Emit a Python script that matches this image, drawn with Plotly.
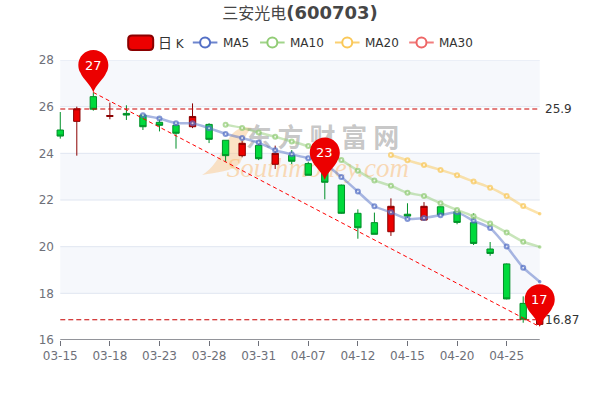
import plotly.graph_objects as go

dates = ["03-15","03-16","03-17","03-18","03-19","03-22","03-23","03-24","03-25","03-28",
         "03-29","03-30","03-31","04-01","04-02","04-07","04-08","04-09","04-12","04-13",
         "04-14","04-15","04-16","04-19","04-20","04-21","04-22","04-25","04-26","04-27"]
tick_labels = dates[::3]
y_ticks = [16, 18, 20, 22, 24, 26, 28]

opens  = [25.00,25.37,26.43,25.58,25.71,25.64,25.33,25.20,25.14,25.24,24.56,23.90,24.34,23.53,23.91,23.56,23.20,22.64,21.43,21.03,20.64,21.39,21.14,21.71,21.50,21.03,19.90,19.26,17.57,16.67]
closes = [24.74,25.91,25.89,25.62,25.64,25.14,25.20,24.86,25.58,24.60,23.90,24.43,23.77,24.00,23.66,23.06,22.76,21.43,20.81,20.53,21.73,21.31,21.73,21.36,21.04,20.14,19.71,17.76,16.89,17.00]
highs  = [25.77,26.00,26.61,26.17,26.06,25.64,25.56,25.30,26.14,25.29,24.56,24.54,24.43,24.33,24.14,23.64,23.30,22.66,21.60,21.46,22.07,21.86,21.91,21.73,21.53,21.43,20.20,19.28,17.87,17.20]
lows   = [24.63,23.90,25.83,25.46,25.43,25.00,24.94,24.20,25.08,24.44,23.64,23.83,23.71,23.33,23.54,23.06,22.03,21.41,20.34,20.53,20.46,21.21,21.11,21.36,20.96,20.07,19.61,17.74,16.74,16.60]

ma5 = [None]*5 + [25.63,25.49,25.29,25.29,25.08,24.83,24.66,24.46,24.13,23.96,23.79,23.55,22.99,22.36,21.73,21.47,21.19,21.23,21.35,21.47,21.11,20.80,20.01,19.10,18.50]
ma10 = [None]*10 + [25.23,25.09,24.89,24.71,24.51,24.31,24.05,23.71,23.25,22.84,22.61,22.31,22.17,21.86,21.57,21.30,20.99,20.61,20.21,19.99]
ma20 = [None]*20 + [23.93,23.70,23.50,23.29,23.06,22.79,22.53,22.17,21.74,21.41]
ma30 = [None]*30

ref_high = 25.9
ref_low = 16.87
ref_high_label = "25.9"
ref_low_label = "16.87"
trend_x = [dates[2], dates[29]]
trend_y = [26.61, 16.57]
pin_idx = [2, 16, 29]
pin_y = [26.61, 22.86, 16.57]
pin_labels = ["27", "23", "17"]

FONT = "DejaVu Sans, Noto Sans CJK SC, sans-serif"
AXIS = "#6e7079"
# the value axis spans 60..540 px between the first and last category; half a step of room each side
STEP = 480 / 29
L = 60 - STEP / 2
R = 540 + STEP / 2
T, B = 60, 340
px = lambda x: (x - L) / (R - L)
py = lambda y: (B - y) / (B - T)
ix = lambda i: (i + 0.5) / len(dates)
vy = lambda v: (v - y_ticks[0]) / (y_ticks[-1] - y_ticks[0])

fig = go.Figure()
fig.add_trace(go.Candlestick(
    x=dates, open=opens, high=highs, low=lows, close=closes, name="日K",
    increasing=dict(fillcolor="#ec0000", line=dict(color="#8a0000", width=1)),
    decreasing=dict(fillcolor="#00da3c", line=dict(color="#008f28", width=1)),
    showlegend=False, whiskerwidth=0))
for name, vals, col in [("MA5", ma5, "84,112,198"), ("MA10", ma10, "145,204,117"),
                        ("MA20", ma20, "250,200,88"), ("MA30", ma30, "238,102,102")]:
    sizes = [4] * 29 + [3.5]
    fills = ["white"] * 29 + [f"rgb({col})"]
    lws = [2] * 29 + [0]
    fig.add_trace(go.Scatter(
        x=dates, y=vals, name=name, mode="lines+markers", showlegend=False,
        line=dict(color=f"rgba({col},0.5)", width=2.5, shape="spline", smoothing=0.5),
        marker=dict(size=sizes, color=fills, line=dict(color=f"rgb({col})", width=lws))))
fig.add_trace(go.Scatter(x=dates, y=[ref_high]*30, mode="lines", showlegend=False,
                         line=dict(color="#c80000", width=1.1, dash="5px,3px")))
fig.add_trace(go.Scatter(x=dates, y=[ref_low]*30, mode="lines", showlegend=False,
                         line=dict(color="#c80000", width=1.1, dash="5px,3px")))
fig.add_trace(go.Scatter(x=trend_x, y=trend_y, mode="lines", showlegend=False,
                         line=dict(color="#ff0000", width=1, dash="4px,3px")))

shapes = []
for lo, hi in [(26, 28), (22, 24), (18, 20)]:
    shapes.append(dict(type="rect", xref="paper", yref="y", x0=ix(0), x1=ix(29), y0=lo, y1=hi,
                       fillcolor="#f6f8fc", line_width=0, layer="below"))
for t in y_ticks[1:]:
    shapes.append(dict(type="line", xref="paper", yref="y", x0=ix(0), x1=ix(29), y0=t, y1=t,
                       line=dict(color="#e0e6f1", width=1), layer="below"))
shapes.append(dict(type="line", xref="paper", yref="y", x0=ix(0), x1=ix(29), y0=y_ticks[0], y1=y_ticks[0],
                   line=dict(color=AXIS, width=1.5), layer="between"))
# watermark
shapes.append(dict(type="path", xref="paper", yref="paper", xsizemode="pixel", ysizemode="pixel",
                   xanchor=px(202), yanchor=py(175),
                   path="M0,0 C14,3 30,3 38,12 C44,22 38,38 50,47 C40,50 30,45 24,32 C18,18 10,6 0,0 Z",
                   fillcolor="rgba(250,200,140,0.5)", line_width=0, layer="between"))
shapes.append(dict(type="rect", xref="paper", yref="paper", x0=px(235), x1=px(410), y0=py(151), y1=py(128),
                   line_width=0, fillcolor="rgba(0,0,0,0)", layer="between",
                   label=dict(text="<b>东 方 财 富 网</b>", textposition="middle center",
                              font=dict(size=26, color="rgba(120,120,120,0.42)", family="Noto Sans CJK SC"))))
shapes.append(dict(type="rect", xref="paper", yref="paper", x0=px(228), x1=px(408), y0=py(178), y1=py(152),
                   line_width=0, fillcolor="rgba(0,0,0,0)", layer="between",
                   label=dict(text="Southmoney.com", textposition="middle center",
                              font=dict(size=27, color="rgba(250,185,110,0.5)", family="Liberation Serif", style="italic"))))
# pins
PIN = "M0,0 C-2,7 -10.5,13.5 -13,20 C-14.4,22 -15,24.6 -15,27.5 C-15,35.8 -8.3,42.5 0,42.5 C8.3,42.5 15,35.8 15,27.5 C15,24.6 14.4,22 13,20 C10.5,13.5 2,7 0,0 Z"
for i, yv in zip(pin_idx, pin_y):
    shapes.append(dict(type="path", xref="paper", yref="paper", xsizemode="pixel", ysizemode="pixel",
                       xanchor=ix(i), yanchor=vy(yv), path=PIN, fillcolor="#ec0000", line_width=0, layer="above"))
# legend
shapes.append(dict(type="path", xref="paper", yref="paper", xsizemode="pixel", ysizemode="pixel",
                   xanchor=px(128), yanchor=py(50),
                   path="M4,0 H21 Q25,0 25,4 V10.5 Q25,14.5 21,14.5 H4 Q0,14.5 0,10.5 V4 Q0,0 4,0 Z",
                   fillcolor="#ec0000", line=dict(color="#8a0000", width=2), layer="above"))
leg = [("MA5", 192.7, 222.7, "84,112,198"), ("MA10", 260, 290, "145,204,117"),
       ("MA20", 335, 365, "250,200,88"), ("MA30", 409.3, 439.3, "238,102,102")]
anns = []
for name, x0, tx, col in leg:
    shapes.append(dict(type="line", xref="paper", yref="paper", x0=px(x0), x1=px(x0 + 24.6), y0=py(42.5), y1=py(42.5),
                       line=dict(color=f"rgba({col},0.85)", width=2), layer="above"))
    shapes.append(dict(type="circle", xref="paper", yref="paper", xsizemode="pixel", ysizemode="pixel",
                       xanchor=px(x0 + 12.3), yanchor=py(42.5), x0=-5, x1=5, y0=-5, y1=5,
                       fillcolor="white", line=dict(color=f"rgb({col})", width=2), layer="above"))
    anns.append(dict(text=name, xref="paper", yref="paper", x=px(tx - 2), y=py(42.5), xanchor="left", yanchor="middle",
                     showarrow=False, font=dict(size=12, color="#333", family=FONT)))
anns.append(dict(text='<span style="font-size:14px">日</span> K', xref="paper", yref="paper", x=px(155.5), y=py(42.5),
                 xanchor="left", yanchor="middle", showarrow=False, font=dict(size=12, color="#333", family=FONT)))
for i, yv, t in zip(pin_idx, pin_y, pin_labels):
    anns.append(dict(text=t, x=ix(i), y=vy(yv), xref="paper", yref="paper", yshift=27, xanchor="center", yanchor="middle",
                     showarrow=False, font=dict(size=13, color="white", family=FONT)))
for yv, t in [(ref_high, ref_high_label), (ref_low, ref_low_label)]:
    anns.append(dict(text=t, x=ix(29), y=vy(yv), xref="paper", yref="paper", xshift=3, xanchor="left", yanchor="middle",
                     showarrow=False, font=dict(size=12, color="#333", family=FONT)))

fig.update_layout(
    width=600, height=400, margin=dict(l=L, r=600 - R, t=T, b=400 - B, pad=0),
    paper_bgcolor="white", plot_bgcolor="rgba(0,0,0,0)", font=dict(family=FONT, size=12, color=AXIS),
    showlegend=False, boxgap=0.45,
    title=dict(text='<span style="font-size:16px;font-weight:normal">三安光电</span><b>(600703)</b>',
               x=0.5, xanchor="center", y=0.968, yanchor="middle",
               font=dict(size=18, color="#464646", family=FONT)),
    xaxis=dict(type="category", categoryorder="array", categoryarray=dates, range=[-0.5, 29.5], rangeslider=dict(visible=False),
               tickmode="array", tickvals=tick_labels, ticktext=tick_labels, ticks="outside", ticklen=5,
               tickcolor=AXIS, showline=False, showgrid=False, tickangle=0, tickfont=dict(size=12, color=AXIS)),
    yaxis=dict(range=[16, 28], tickvals=y_ticks, showgrid=False, zeroline=False,
               ticks="", ticklabelstandoff=-3, showline=False, tickfont=dict(size=12, color=AXIS)),
    shapes=shapes, annotations=anns)

fig.write_html("out.html", config=dict(displayModeBar=False), post_script="document.body.style.margin='0';")
